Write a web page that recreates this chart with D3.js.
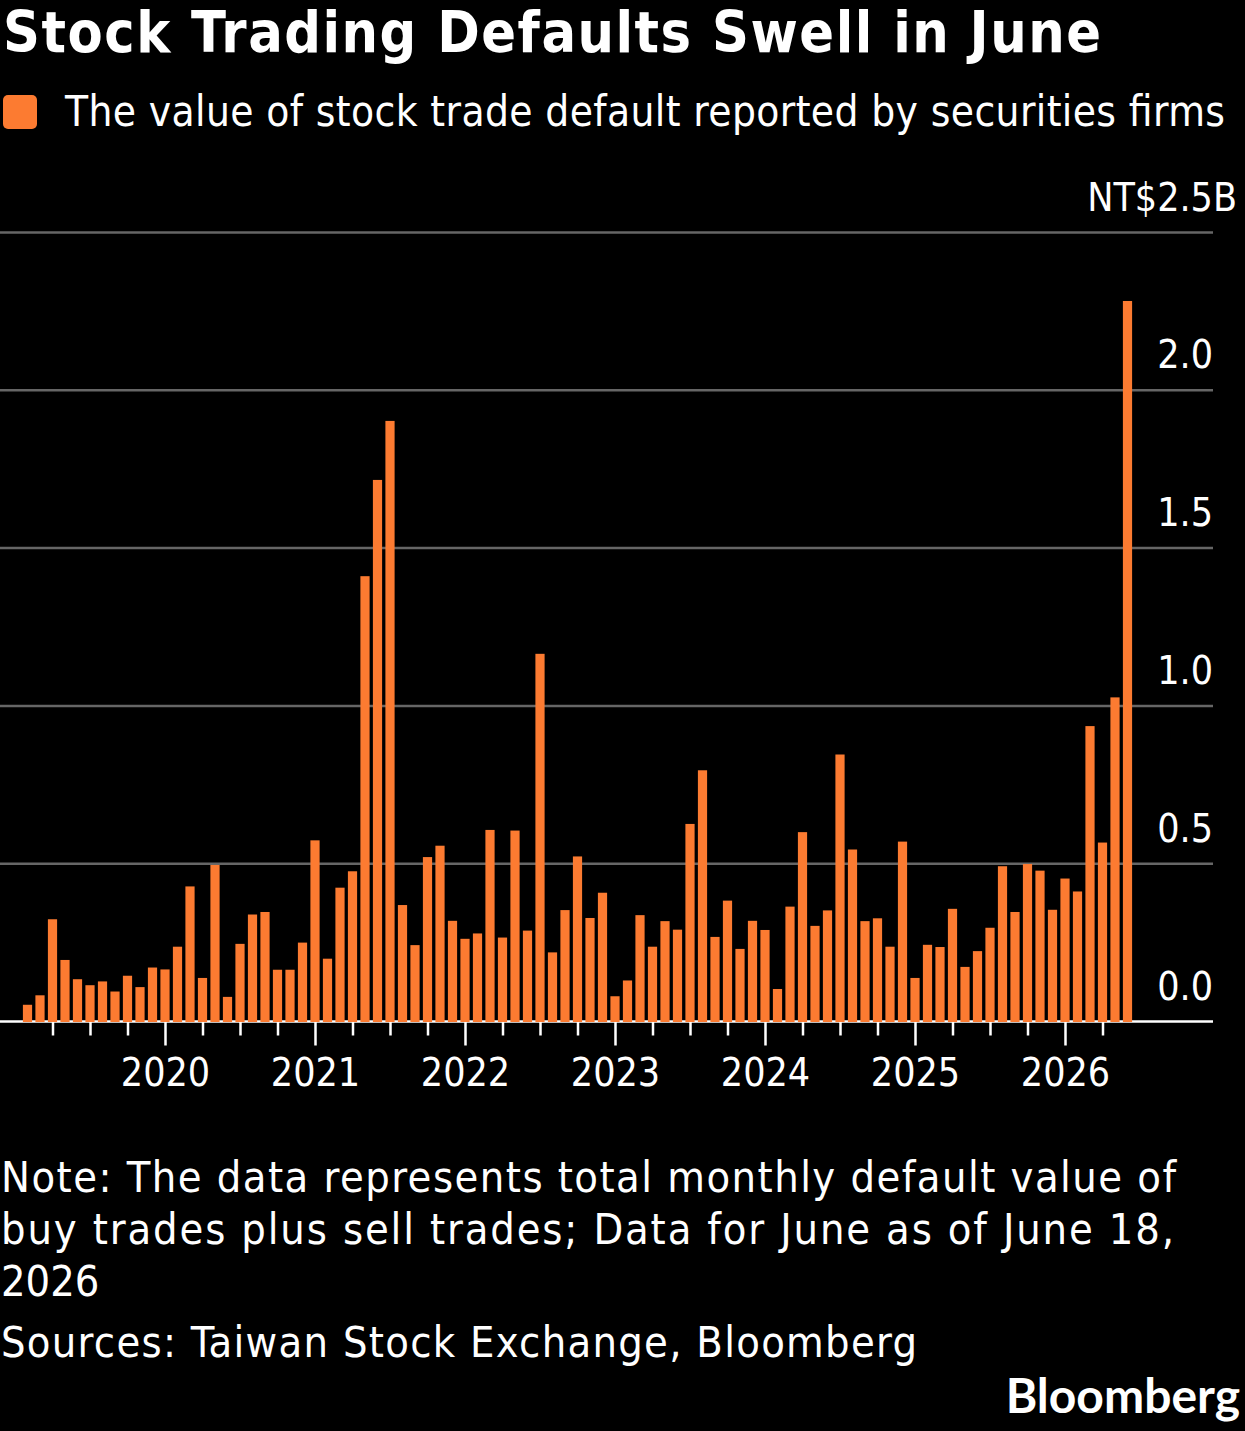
<!DOCTYPE html>
<html>

<head>
	<meta charset="utf-8">
	<script src="https://cdn.jsdelivr.net/npm/d3@7"></script>
	<style>
		html, body {
			margin: 0;
			padding: 0;
			background: #000;
		}

		text {
			font-family: "DejaVu Sans Condensed", "DejaVu Sans", sans-serif;
			fill: #fff;
		}

		.grid {
			stroke: #666;
			stroke-width: 2.5;
		}

		.bar {
			fill: #fc7b31;
		}
	</style>
</head>

<body>
	<svg></svg>
	<script>

		var width = 1245;
		var height = 1431;

		// monthly values, NT$ billions
		var firstMonth = 1; // Feb 2019 (0-based month)
		var values2019 = [0.053, 0.083, 0.324, 0.195, 0.134, 0.115, 0.127, 0.095, 0.145, 0.109, 0.171];
		var values2020 = [0.165, 0.237, 0.428, 0.138, 0.496, 0.078, 0.246, 0.339, 0.347, 0.164, 0.164, 0.250];
		var values2021 = [0.574, 0.199, 0.424, 0.476, 1.411, 1.716, 1.903, 0.369, 0.242, 0.521, 0.557, 0.319];
		var values2022 = [0.262, 0.279, 0.607, 0.266, 0.605, 0.288, 1.165, 0.219, 0.353, 0.523, 0.328, 0.408];
		var values2023 = [0.080, 0.130, 0.337, 0.237, 0.318, 0.291, 0.626, 0.796, 0.268, 0.383, 0.230, 0.319];
		var values2024 = [0.290, 0.103, 0.364, 0.600, 0.303, 0.352, 0.846, 0.545, 0.318, 0.327, 0.237, 0.570];
		var values2025 = [0.138, 0.243, 0.236, 0.357, 0.173, 0.223, 0.297, 0.492, 0.347, 0.499, 0.478, 0.354];
		var values2026 = [0.453, 0.412, 0.936, 0.567, 1.027, 2.283];

		var yearLabels = ["2020", "2021", "2022", "2023", "2024", "2025", "2026"];
		var yTicks = [0, 0.5, 1.0, 1.5, 2.0, 2.5];
		var yTickLabels = ["0.0", "0.5", "1.0", "1.5", "2.0", "NT$2.5B"];

		// months counted from Jan 2020
		var data = [];
		[values2019, values2020, values2021, values2022, values2023, values2024, values2025, values2026]
			.forEach((arr, yi) => {
				arr.forEach((v, mi) => {
					var m = yi === 0 ? mi + firstMonth : mi;
					data.push({ month: (yi - 1) * 12 + m, value: v });
				});
			});

		var svg = d3.select('svg')
			.attr("width", width)
			.attr("height", height);

		svg.append("rect")
			.attr("width", width)
			.attr("height", height)
			.attr("fill", "#000");

		var x = d3.scaleLinear()
			.domain([0, 72])
			.range([165, 1065]);
		var y = d3.scaleLinear()
			.domain([0, 2.5])
			.range([1021.5, 232.5]);

		var plotRight = 1213;
		var barW = 9.2;

		// title and legend
		svg.append("text")
			.attr("x", 3)
			.attr("y", 52)
			.attr("font-size", 57)
			.attr("font-weight", "bold")
			.attr("textLength", 1098)
			.attr("lengthAdjust", "spacing")
			.text("Stock Trading Defaults Swell in June");

		svg.append("rect")
			.attr("x", 3)
			.attr("y", 95)
			.attr("width", 34)
			.attr("height", 34)
			.attr("rx", 5)
			.attr("class", "bar");
		svg.append("text")
			.attr("x", 65)
			.attr("y", 126)
			.attr("font-size", 42)
			.attr("textLength", 1160)
			.attr("lengthAdjust", "spacing")
			.text("The value of stock trade default reported by securities firms");

		// gridlines
		svg.selectAll("line.grid")
			.data(yTicks.filter(d => d > 0))
			.enter()
			.append("line")
			.attr("class", "grid")
			.attr("x1", 0)
			.attr("x2", plotRight)
			.attr("y1", d => y(d))
			.attr("y2", d => y(d));

		// y labels
		svg.selectAll("text.ylab")
			.data(yTicks)
			.enter()
			.append("text")
			.attr("class", "ylab")
			.attr("x", (d, i) => i === yTicks.length - 1 ? 1237 : plotRight)
			.attr("y", d => y(d) - 22)
			.attr("text-anchor", "end")
			.attr("font-size", 39)
			.text((d, i) => yTickLabels[i]);

		// x axis, a tick each quarter
		var quarterTicks = d3.range(-9, 78, 3);
		var xAxis = d3.axisBottom(x)
			.tickValues(quarterTicks)
			.tickSizeOuter(0)
			.tickFormat(d => d % 12 === 0 ? yearLabels[d / 12] : "");
		var gx = svg.append("g")
			.attr("transform", "translate(0," + y(0) + ")")
			.call(xAxis);
		gx.select(".domain").remove();
		gx.selectAll(".tick line")
			.attr("stroke", "#fff")
			.attr("stroke-width", 2.5)
			.attr("y2", d => d % 12 === 0 ? 24 : 14);
		gx.selectAll(".tick text")
			.attr("y", 36)
			.attr("dy", 0)
			.attr("dominant-baseline", "hanging")
			.attr("font-size", 39)
			.attr("fill", "#fff")
			.style("font-family", '"DejaVu Sans Condensed", "DejaVu Sans", sans-serif');

		svg.append("line")
			.attr("x1", 0)
			.attr("x2", plotRight)
			.attr("y1", y(0))
			.attr("y2", y(0))
			.attr("stroke", "#fff")
			.attr("stroke-width", 2.5);

		// bars
		svg.selectAll("rect.bar-m")
			.data(data)
			.enter()
			.append("rect")
			.attr("class", "bar bar-m")
			.attr("x", d => x(d.month) - barW / 2)
			.attr("width", barW)
			.attr("y", d => y(d.value))
			.attr("height", d => y(0) - y(d.value) + 0.5);

		// footer
		var notes = [
			["Note: The data represents total monthly default value of", 1192, 1175],
			["buy trades plus sell trades; Data for June as of June 18,", 1244, 1173],
			["2026", 1296, null],
			["Sources: Taiwan Stock Exchange, Bloomberg", 1357, 916]
		];
		notes.forEach(n => {
			var t = svg.append("text")
				.attr("x", 1)
				.attr("y", n[1])
				.attr("font-size", 43)
				.text(n[0]);
			if (n[2]) t.attr("textLength", n[2]).attr("lengthAdjust", "spacing");
		});

		svg.append("text")
			.attr("x", 1240)
			.attr("y", 1413)
			.attr("text-anchor", "end")
			.attr("font-size", 48)
			.attr("font-weight", "bold")
			.style("font-family", "Lato, 'Open Sans', sans-serif")
			.text("Bloomberg");

	</script>
</body>

</html>
